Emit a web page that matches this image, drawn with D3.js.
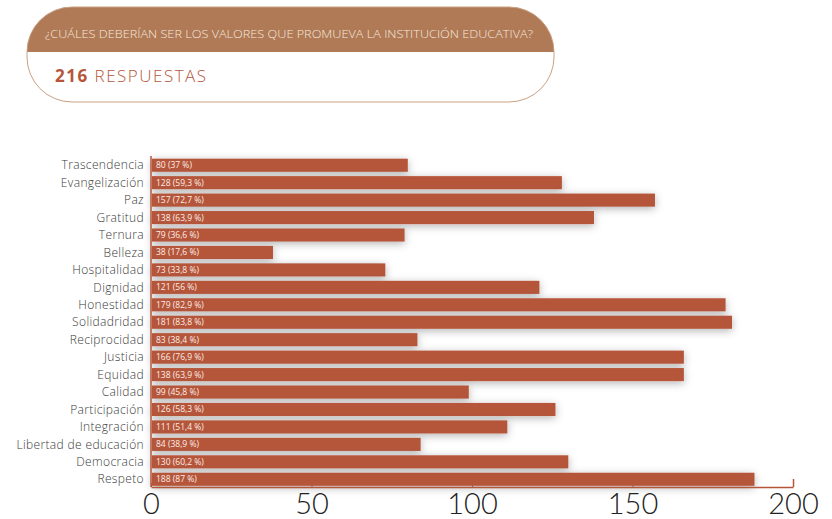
<!DOCTYPE html>
<meta charset="utf-8">
<style>
body { margin: 0; background: #fff; overflow: hidden; }
.cat text { font: 300 12px "Open Sans", sans-serif; fill: #3a3a3a; letter-spacing: 0.35px; }
.barlabel { font: 400 8.5px "Open Sans", sans-serif; fill: #fbeee8; }
.xaxis text { font: 300 29px Lato, sans-serif; fill: #222; }
.xaxis line, .xaxis path { stroke: #b5563a; }
</style>
<div id="chart"></div>
<script src="https://cdn.jsdelivr.net/npm/d3@7"></script>
<script>

var width = 832, height = 519;

// question / header
var question = "¿CUÁLES DEBERÍAN SER LOS VALORES QUE PROMUEVA LA INSTITUCIÓN EDUCATIVA?";
var totalAnswers = 216;

// categories top to bottom
var categories = ["Trascendencia", "Evangelización", "Paz", "Gratitud", "Ternura", "Belleza",
  "Hospitalidad", "Dignidad", "Honestidad", "Solidadridad", "Reciprocidad", "Justicia",
  "Equidad", "Calidad", "Participación", "Integración", "Libertad de educación",
  "Democracia", "Respeto"];

// bar lengths as drawn in the picture
var barValues = [80, 128, 157, 138, 79, 38, 73, 121, 179, 181, 83, 166, 166, 99, 126, 111, 84, 130, 188];

// labels printed on the bars
var counts = [80, 128, 157, 138, 79, 38, 73, 121, 179, 181, 83, 166, 138, 99, 126, 111, 84, 130, 188];
var percents = ["37", "59,3", "72,7", "63,9", "36,6", "17,6", "33,8", "56", "82,9", "83,8",
  "38,4", "76,9", "63,9", "45,8", "58,3", "51,4", "38,9", "60,2", "87"];

var xTicks = [0, 50, 100, 150, 200];

var barColor = "#b5563a";

var svg = d3.select("#chart").append("svg")
    .attr("width", width)
    .attr("height", height);

var defs = svg.append("defs");
var shadow = defs.append("filter").attr("id", "shadow")
    .attr("x", "-10%").attr("y", "-100%").attr("width", "120%").attr("height", "300%");
shadow.append("feDropShadow")
    .attr("dx", 0).attr("dy", 2)
    .attr("stdDeviation", 4)
    .attr("flood-color", "#000")
    .attr("flood-opacity", 0.3);

// ---- header box
var hx = 27, hy = 7, hw = 527, hh = 95, hr = 45;
defs.append("clipPath").attr("id", "hclip")
  .append("rect")
    .attr("x", hx).attr("y", hy).attr("width", hw).attr("height", hh)
    .attr("rx", hr).attr("ry", hr);

var header = svg.append("g");
header.append("rect")
    .attr("x", hx).attr("y", hy).attr("width", hw).attr("height", 45)
    .attr("fill", "#b07a56")
    .attr("clip-path", "url(#hclip)");
header.append("rect")
    .attr("x", hx).attr("y", hy).attr("width", hw).attr("height", hh)
    .attr("rx", hr).attr("ry", hr)
    .attr("fill", "none")
    .attr("stroke", "#c9a083")
    .attr("stroke-width", 1);
header.append("text")
    .attr("x", 45).attr("y", 38)
    .attr("textLength", 488)
    .attr("lengthAdjust", "spacingAndGlyphs")
    .style("font", "300 10.5px 'Open Sans', sans-serif")
    .attr("fill", "#f6e9df")
    .text(question);
var resp = header.append("text")
    .attr("x", 55).attr("y", 82)
    .style("font", "400 17px 'Open Sans', sans-serif")
    .attr("fill", barColor)
    .attr("letter-spacing", "1.5px");
resp.append("tspan").style("font-weight", 700).text(totalAnswers + " ");
resp.append("tspan").style("font-weight", 300).text("RESPUESTAS");

// ---- chart
var x = d3.scaleLinear().domain([0, 200]).range([151, 793]);
var y = d3.scaleBand().domain(categories).range([156.5, 488])
    .paddingInner(0.25).paddingOuter(0.125);

var rows = categories.map((c, i) => ({
  name: c, value: barValues[i], label: `${counts[i]} (${percents[i]} %)`
}));

svg.append("g")
  .selectAll("rect")
  .data(rows)
  .join("rect")
    .attr("x", x(0) + 1)
    .attr("y", (d) => y(d.name))
    .attr("width", (d) => x(d.value) - x(0) - 1)
    .attr("height", y.bandwidth())
    .attr("fill", barColor)
    .attr("filter", "url(#shadow)");

svg.append("g")
  .selectAll("text")
  .data(rows)
  .join("text")
    .attr("class", "barlabel")
    .attr("x", x(0) + 5)
    .attr("y", (d) => y(d.name) + y.bandwidth() / 2)
    .attr("dy", "0.35em")
    .text((d) => d.label);

// category labels
svg.append("g")
    .attr("class", "cat")
  .selectAll("text")
  .data(categories)
  .join("text")
    .attr("x", 144)
    .attr("y", (d) => y(d) + y.bandwidth() / 2)
    .attr("dy", "0.35em")
    .attr("text-anchor", "end")
    .text((d) => d);

// left axis line
svg.append("line")
    .attr("x1", x(0)).attr("x2", x(0))
    .attr("y1", 156).attr("y2", 487)
    .attr("stroke", barColor)
    .attr("stroke-width", 1.5);

// bottom axis
var xAxis = svg.append("g")
    .attr("class", "xaxis")
    .attr("transform", "translate(0,487)")
    .call(d3.axisBottom(x).tickValues(xTicks).tickSizeInner(-4).tickSizeOuter(0).tickPadding(6));
xAxis.select(".domain").attr("stroke-width", 1.5);
xAxis.selectAll(".tick line").attr("stroke-width", 1);
xAxis.selectAll(".tick").filter((d) => d === 200).select("line").attr("y2", -8).attr("stroke-width", 1.5);

</script>
